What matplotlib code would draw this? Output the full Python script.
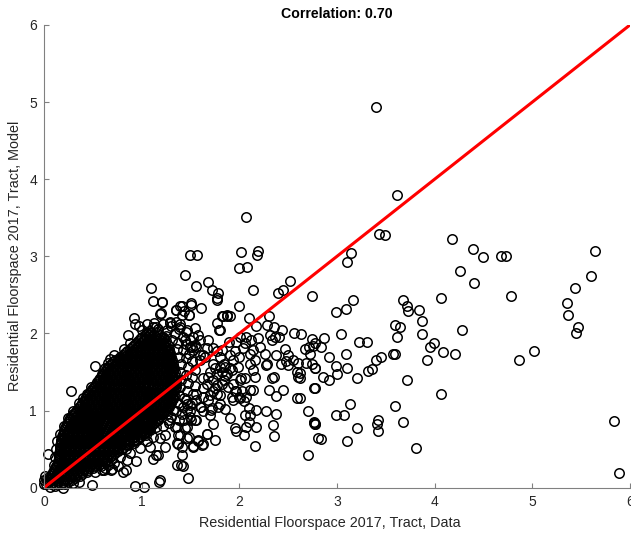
import matplotlib
matplotlib.use("Agg")
import matplotlib.pyplot as plt

plt.rcParams['font.family'] = ['Liberation Sans', 'DejaVu Sans']

# scattered tracts outside the dense core (data, model)
data_x = [5.64, 5.60, 5.44, 5.35, 5.37, 5.47, 5.45, 5.84, 5.89, 5.02, 4.86, 4.78, 4.68, 4.73, 4.50,
          4.39, 4.40, 4.26, 4.18, 4.28, 4.06, 4.21, 4.09, 3.99, 3.95, 3.92, 4.06, 3.87, 3.87, 3.84,
          3.68, 3.72, 3.73, 3.59, 3.65, 3.61, 3.57, 3.59, 3.45, 3.40, 3.36, 3.32, 3.72, 3.31, 3.23,
          3.21, 3.59, 3.68, 3.81, 3.42, 3.41, 3.42, 3.21, 3.10, 3.13, 2.99, 3.07, 2.84, 2.70, 2.76,
          2.77, 2.70, 2.77, 2.62, 2.86, 2.92, 3.00, 2.99, 3.10, 3.09, 2.92, 2.78, 2.68, 2.62, 2.62,
          2.72, 2.71, 2.75, 2.78, 2.84, 2.74, 2.87, 3.04, 2.63, 2.99, 3.09, 3.16, 2.74, 3.10, 3.14,
          3.40, 3.61, 3.43, 3.49, 2.07, 2.02, 2.19, 2.18, 1.49, 1.57,
          2.00, 2.08, 1.44, 1.68, 1.56, 1.72, 1.78, 1.77, 2.14, 2.40, 2.45, 2.52, 1.51, 1.61, 1.35,
          1.39, 1.43, 1.48, 2.00, 1.82, 1.87, 1.90, 2.10, 1.77, 1.79, 2.30, 2.28, 2.35, 2.44, 2.56,
          2.37, 2.41, 2.31, 2.17, 2.01, 2.07, 2.12, 2.19, 1.97, 2.06, 2.04, 2.14, 2.21, 2.33, 2.47,
          2.50, 2.55, 2.48, 2.67, 2.60, 2.74,
          1.68, 1.67, 1.73, 1.77, 1.82, 1.89, 1.90, 1.96, 2.00, 2.11, 2.11, 2.16, 2.26, 2.28, 2.38,
          2.43, 1.44, 1.53, 1.49, 1.56, 1.60, 1.65, 1.35, 1.39, 1.46, 1.55,
          1.47, 1.40, 1.41, 1.41, 1.36, 1.53, 1.62, 1.75, 1.67, 1.58, 1.48, 2.16, 2.36, 2.34, 2.38,
          2.27, 2.17, 2.10, 2.07, 1.96, 1.97, 2.05, 1.90, 1.73, 2.06, 2.11, 2.10, 2.17, 2.01, 2.03,
          1.96, 2.11, 2.05, 2.16, 2.02, 2.30, 2.38, 2.45, 2.33, 2.36, 2.27, 2.14, 1.99, 1.92, 1.85,
          2.50, 2.59, 2.60, 2.77, 2.76, 2.59, 2.76, 2.78, 2.81, 1.80, 1.80, 1.72, 1.70, 1.63, 1.61,
          1.56, 1.55, 1.49, 1.44, 1.37, 1.34, 1.41, 1.49, 1.43, 1.63, 1.73, 1.77, 1.82, 1.63, 1.68,
          1.77, 1.70,
          1.02, 0.93, 1.19, 1.42, 1.18, 1.24, 1.17, 0.94, 0.98, 0.84, 0.69, 0.59, 1.05, 1.12, 1.24,
          1.36, 1.46, 1.51, 1.63, 1.68, 1.67, 1.73, 1.77, 1.80, 1.80, 1.73, 1.60, 1.53, 1.60, 1.87,
          1.82, 1.94, 1.90, 1.94, 1.97, 2.01, 2.06, 1.94, 2.00, 2.07, 2.14,
          1.75, 1.85, 1.88, 1.70, 1.92, 1.85,
          0.40, 0.28, 0.56, 0.52, 0.68, 0.78, 0.91, 0.86, 0.99, 0.93, 0.92, 1.12, 1.29, 1.35, 1.20,
          1.10, 1.12, 1.21, 0.04,
          0.00, 0.01, 0.06, 0.11, 0.19, 0.30, 0.36, 0.49, 0.00, 0.03]
data_y = [3.07, 2.74, 2.59, 2.40, 2.24, 2.08, 2.00, 0.86, 0.19, 1.77, 1.66, 2.49, 3.01, 3.00, 2.99,
          3.10, 2.66, 2.81, 3.23, 2.05, 2.46, 1.73, 1.76, 1.87, 1.82, 1.66, 1.21, 2.16, 1.99, 2.30,
          2.43, 2.35, 2.29, 2.11, 2.08, 1.96, 1.74, 1.74, 1.70, 1.65, 1.54, 1.51, 1.40, 1.89, 1.89,
          1.42, 1.06, 0.85, 0.51, 0.88, 0.83, 0.74, 0.78, 0.60, 1.09, 0.94, 0.94, 0.63, 0.43, 0.84,
          0.82, 0.99, 1.29, 1.16, 1.43, 1.39, 1.48, 1.58, 1.55, 1.73, 1.70, 1.55, 1.62, 1.49, 1.42,
          1.74, 1.83, 1.84, 1.87, 1.82, 1.93, 1.94, 1.99, 1.99, 2.28, 2.32, 2.43, 2.49, 2.93, 3.04,
          4.94, 3.79, 3.29, 3.27, 3.51, 3.05, 3.07, 3.02, 3.02, 3.02,
          2.85, 2.86, 2.76, 2.67, 2.61, 2.56, 2.52, 2.46, 2.56, 2.53, 2.56, 2.68, 2.39, 2.33, 2.30,
          2.35, 2.29, 2.24, 2.35, 2.22, 2.22, 2.22, 2.20, 2.14, 2.05, 2.23, 2.11, 2.08, 2.05, 2.00,
          1.96, 1.96, 1.98, 2.10, 1.96, 1.96, 1.92, 1.94, 1.89, 1.87, 1.81, 1.79, 1.83, 1.92, 1.80,
          1.72, 1.66, 1.64, 1.80, 1.62, 1.61,
          1.92, 1.81, 1.81, 1.77, 1.79, 1.89, 1.72, 1.77, 1.70, 1.74, 1.61, 1.66, 1.74, 1.61, 1.72,
          1.61, 1.92, 1.96, 1.83, 1.83, 1.72, 1.70, 2.15, 2.09, 2.04, 2.07,
          0.12, 0.29, 0.43, 0.53, 0.58, 0.54, 0.55, 0.62, 0.69, 0.62, 0.66, 0.54, 0.67, 0.81, 0.95,
          1.00, 0.79, 0.85, 0.79, 0.77, 0.73, 0.68, 0.90, 0.82, 0.94, 0.94, 1.03, 1.01, 1.16, 1.25,
          1.25, 1.27, 1.12, 1.44, 1.42, 1.27, 1.19, 1.27, 1.42, 1.43, 1.59, 1.53, 1.57, 1.53, 1.57,
          1.59, 1.50, 1.44, 1.55, 1.29, 1.16, 0.85, 0.82, 0.64, 1.20, 1.09, 1.03, 0.94, 0.99, 1.05,
          1.22, 0.88, 0.92, 0.77, 0.68, 0.79, 0.96, 1.07, 1.16, 1.42, 1.40, 1.33, 1.35, 1.29, 1.44,
          1.48, 1.50,
          0.01, 0.02, 0.10, 0.28, 0.08, 0.53, 0.42, 0.35, 0.51, 0.23, 0.23, 0.23, 0.79, 0.66, 0.68,
          0.29, 0.79, 0.88, 1.18, 1.14, 1.35, 1.25, 1.22, 1.70, 1.57, 1.61, 1.66, 1.79, 1.92, 1.48,
          1.50, 1.66, 1.55, 1.35, 1.25, 1.40, 1.42, 1.14, 1.18, 1.18, 1.27,
          1.55, 1.45, 1.30, 1.20, 1.17, 1.02,
          1.16, 1.26, 1.40, 1.58, 1.67, 1.67, 1.75, 1.98, 1.94, 2.12, 2.20, 2.08, 2.15, 2.30, 2.26,
          2.59, 2.42, 2.41, 0.44,
          0.05, 0.15, 0.01, 0.02, 0.00, 0.06, 0.08, 0.03, 0.10, 0.12]

# tracts crowding the rim of the core
edge_x = [0.97, 1.05, 1.13, 1.22, 1.30, 1.38, 1.45, 1.00, 1.08, 1.17, 1.26, 1.34, 1.42, 1.50,
          1.25, 1.31, 1.37, 1.45, 1.52, 1.21, 1.41, 1.51, 1.77, 1.19, 1.29, 1.39, 1.48, 1.41,
          1.15, 1.83, 1.80, 1.87,
          1.36, 1.42, 1.48, 1.38, 1.45, 1.52, 1.40, 1.47, 1.55, 1.39, 1.45, 1.52, 1.40, 1.47,
          1.55, 1.39, 1.46, 1.53, 1.38, 1.45, 1.52, 1.37, 1.42, 1.50, 1.35, 1.30, 1.38, 1.28,
          1.22, 1.58, 1.55, 1.63, 1.84, 1.75, 1.84, 1.56, 1.46,
          0.81, 0.70, 0.61, 0.52, 0.85, 1.12, 1.15, 1.09, 1.19, 1.05, 0.88, 1.37, 1.39, 1.46,
          1.53, 1.58, 1.63, 1.67, 1.43, 1.56, 1.36, 1.27, 1.26, 1.32, 1.46, 1.60, 1.71, 1.78,
          1.09, 1.02, 1.15, 0.91, 0.72, 0.78, 0.84, 0.92, 0.76, 0.66, 0.70, 0.98, 1.04, 0.95,
          0.62, 0.58, 1.10, 1.17, 1.20,
          0.62, 0.66, 0.48, 0.44, 0.36, 0.30, 0.25, 0.20, 0.16, 0.13, 0.12, 0.11, 0.10, 0.72,
          0.82, 0.88, 0.59, 0.56]
edge_y = [2.10, 2.12, 2.14, 2.12, 2.10, 2.06, 2.02, 2.04, 2.03, 2.06, 2.04, 2.00, 1.96, 1.92,
          1.97, 1.92, 1.88, 1.86, 1.83, 2.41, 2.35, 2.37, 2.43, 2.25, 2.14, 2.12, 2.24, 2.24,
          2.09, 2.22, 2.04, 2.24,
          1.80, 1.78, 1.74, 1.70, 1.68, 1.64, 1.60, 1.57, 1.52, 1.50, 1.46, 1.43, 1.40, 1.36,
          1.32, 1.30, 1.26, 1.22, 1.20, 1.14, 1.10, 1.10, 1.04, 1.00, 1.00, 0.92, 0.88, 0.84,
          0.80, 1.98, 1.85, 1.72, 1.61, 1.29, 1.40, 1.14, 1.09,
          0.21, 0.24, 0.23, 0.21, 0.36, 0.37, 0.42, 0.53, 0.64, 0.60, 0.45, 0.57, 0.68, 0.64,
          0.53, 0.60, 0.57, 0.70, 0.88, 0.88, 0.79, 0.88, 0.96, 1.01, 1.01, 1.05, 1.01, 1.05,
          0.75, 0.71, 0.79, 0.66, 0.32, 0.40, 0.50, 0.58, 0.28, 0.30, 0.38, 0.66, 0.68, 0.62,
          0.26, 0.28, 0.85, 0.88, 0.95,
          1.55, 1.62, 1.30, 1.22, 1.10, 1.00, 0.90, 0.80, 0.70, 0.60, 0.50, 0.40, 0.30, 1.72,
          1.80, 1.88, 1.48, 1.40]

# dense core of tracts near the origin: model level -> data values on that level
core_rows = {
    0.05: [0.02, 0.07, 0.12, 0.17, 0.22],
    0.075: [0.045, 0.095, 0.145, 0.195, 0.245],
    0.10: [0.04, 0.09, 0.14, 0.19, 0.24, 0.29],
    0.125: [0.065, 0.115, 0.165, 0.215, 0.265, 0.315],
    0.15: [0.07, 0.12, 0.17, 0.22, 0.27, 0.32, 0.37],
    0.175: [0.085, 0.135, 0.185, 0.235, 0.285, 0.335, 0.385],
    0.20: [0.09, 0.14, 0.19, 0.24, 0.29, 0.34, 0.39, 0.44],
    0.225: [0.105, 0.155, 0.205, 0.255, 0.305, 0.355, 0.405, 0.455],
    0.25: [0.11, 0.16, 0.21, 0.26, 0.31, 0.36, 0.41, 0.46, 0.50],
    0.275: [0.125, 0.175, 0.225, 0.275, 0.325, 0.375, 0.425, 0.475, 0.525],
    0.30: [0.13, 0.18, 0.23, 0.28, 0.33, 0.38, 0.43, 0.48, 0.53, 0.56],
    0.325: [0.14, 0.19, 0.24, 0.29, 0.34, 0.39, 0.44, 0.49, 0.54, 0.59],
    0.35: [0.14, 0.19, 0.24, 0.29, 0.34, 0.39, 0.44, 0.49, 0.54, 0.59, 0.62],
    0.375: [0.15, 0.20, 0.25, 0.30, 0.35, 0.40, 0.45, 0.50, 0.55, 0.60, 0.645],
    0.40: [0.15, 0.20, 0.25, 0.30, 0.35, 0.40, 0.45, 0.50, 0.55, 0.60, 0.65, 0.68],
    0.425: [0.155, 0.205, 0.255, 0.305, 0.355, 0.405, 0.455, 0.505, 0.555, 0.605, 0.655, 0.705],
    0.45: [0.15, 0.18, 0.23, 0.28, 0.33, 0.38, 0.43, 0.48, 0.53, 0.58, 0.63, 0.68, 0.73],
    0.475: [0.16, 0.21, 0.26, 0.31, 0.36, 0.41, 0.46, 0.51, 0.56, 0.61, 0.66, 0.71, 0.76],
    0.50: [0.16, 0.21, 0.26, 0.31, 0.36, 0.41, 0.46, 0.51, 0.56, 0.61, 0.66, 0.71, 0.76, 0.80],
    0.525: [0.165, 0.215, 0.265, 0.315, 0.365, 0.415, 0.465, 0.515, 0.565, 0.615, 0.665, 0.715, 0.765, 0.815],
    0.55: [0.16, 0.19, 0.24, 0.29, 0.34, 0.39, 0.44, 0.49, 0.54, 0.59, 0.64, 0.69, 0.74, 0.79, 0.84, 0.86],
    0.575: [0.17, 0.22, 0.27, 0.32, 0.37, 0.42, 0.47, 0.52, 0.57, 0.62, 0.67, 0.72, 0.77, 0.82, 0.87],
    0.60: [0.17, 0.22, 0.27, 0.32, 0.37, 0.42, 0.47, 0.52, 0.57, 0.62, 0.67, 0.72, 0.77, 0.82, 0.87, 0.92],
    0.625: [0.175, 0.225, 0.275, 0.325, 0.375, 0.425, 0.475, 0.525, 0.575, 0.625, 0.675, 0.725, 0.775, 0.825, 0.875, 0.925],
    0.65: [0.18, 0.21, 0.26, 0.31, 0.36, 0.41, 0.46, 0.51, 0.56, 0.61, 0.66, 0.71, 0.76, 0.81, 0.86, 0.91, 0.96],
    0.675: [0.185, 0.235, 0.285, 0.335, 0.385, 0.435, 0.485, 0.535, 0.585, 0.635, 0.685, 0.735, 0.785, 0.835, 0.885, 0.935, 0.985],
    0.70: [0.19, 0.24, 0.29, 0.34, 0.39, 0.44, 0.49, 0.54, 0.59, 0.64, 0.69, 0.74, 0.79, 0.84, 0.89, 0.94, 0.99, 1.02],
    0.725: [0.20, 0.25, 0.30, 0.35, 0.40, 0.45, 0.50, 0.55, 0.60, 0.65, 0.70, 0.75, 0.80, 0.85, 0.90, 0.95, 1.00, 1.04],
    0.75: [0.21, 0.26, 0.31, 0.36, 0.41, 0.46, 0.51, 0.56, 0.61, 0.66, 0.71, 0.76, 0.81, 0.86, 0.91, 0.96, 1.01, 1.06],
    0.775: [0.22, 0.27, 0.32, 0.37, 0.42, 0.47, 0.52, 0.57, 0.62, 0.67, 0.72, 0.77, 0.82, 0.87, 0.92, 0.97, 1.02, 1.07],
    0.80: [0.23, 0.28, 0.33, 0.38, 0.43, 0.48, 0.53, 0.58, 0.63, 0.68, 0.73, 0.78, 0.83, 0.88, 0.93, 0.98, 1.03, 1.08, 1.10],
    0.825: [0.24, 0.29, 0.34, 0.39, 0.44, 0.49, 0.54, 0.59, 0.64, 0.69, 0.74, 0.79, 0.84, 0.89, 0.94, 0.99, 1.04, 1.09, 1.12],
    0.85: [0.25, 0.30, 0.35, 0.40, 0.45, 0.50, 0.55, 0.60, 0.65, 0.70, 0.75, 0.80, 0.85, 0.90, 0.95, 1.00, 1.05, 1.10, 1.14],
    0.875: [0.26, 0.31, 0.36, 0.41, 0.46, 0.51, 0.56, 0.61, 0.66, 0.71, 0.76, 0.81, 0.86, 0.91, 0.96, 1.01, 1.06, 1.11, 1.16],
    0.90: [0.27, 0.32, 0.37, 0.42, 0.47, 0.52, 0.57, 0.62, 0.67, 0.72, 0.77, 0.82, 0.87, 0.92, 0.97, 1.02, 1.07, 1.12, 1.17],
    0.925: [0.285, 0.335, 0.385, 0.435, 0.485, 0.535, 0.585, 0.635, 0.685, 0.735, 0.785, 0.835, 0.885, 0.935, 0.985, 1.035, 1.085, 1.135, 1.185],
    0.95: [0.30, 0.35, 0.40, 0.45, 0.50, 0.55, 0.60, 0.65, 0.70, 0.75, 0.80, 0.85, 0.90, 0.95, 1.00, 1.05, 1.10, 1.15, 1.20, 1.22],
    0.975: [0.315, 0.365, 0.415, 0.465, 0.515, 0.565, 0.615, 0.665, 0.715, 0.765, 0.815, 0.865, 0.915, 0.965, 1.015, 1.065, 1.115, 1.165, 1.215],
    1.00: [0.33, 0.38, 0.43, 0.48, 0.53, 0.58, 0.63, 0.68, 0.73, 0.78, 0.83, 0.88, 0.93, 0.98, 1.03, 1.08, 1.13, 1.18, 1.23, 1.25],
    1.025: [0.345, 0.395, 0.445, 0.495, 0.545, 0.595, 0.645, 0.695, 0.745, 0.795, 0.845, 0.895, 0.945, 0.995, 1.045, 1.095, 1.145, 1.195, 1.245],
    1.05: [0.36, 0.41, 0.46, 0.51, 0.56, 0.61, 0.66, 0.71, 0.76, 0.81, 0.86, 0.91, 0.96, 1.01, 1.06, 1.11, 1.16, 1.21, 1.26, 1.28],
    1.075: [0.375, 0.425, 0.475, 0.525, 0.575, 0.625, 0.675, 0.725, 0.775, 0.825, 0.875, 0.925, 0.975, 1.025, 1.075, 1.125, 1.175, 1.225, 1.275],
    1.10: [0.39, 0.44, 0.49, 0.54, 0.59, 0.64, 0.69, 0.74, 0.79, 0.84, 0.89, 0.94, 0.99, 1.04, 1.09, 1.14, 1.19, 1.24, 1.29, 1.30],
    1.125: [0.405, 0.455, 0.505, 0.555, 0.605, 0.655, 0.705, 0.755, 0.805, 0.855, 0.905, 0.955, 1.005, 1.055, 1.105, 1.155, 1.205, 1.255, 1.305],
    1.15: [0.42, 0.47, 0.52, 0.57, 0.62, 0.67, 0.72, 0.77, 0.82, 0.87, 0.92, 0.97, 1.02, 1.07, 1.12, 1.17, 1.22, 1.27, 1.32],
    1.175: [0.435, 0.485, 0.535, 0.585, 0.635, 0.685, 0.735, 0.785, 0.835, 0.885, 0.935, 0.985, 1.035, 1.085, 1.135, 1.185, 1.235, 1.285, 1.32],
    1.20: [0.45, 0.50, 0.55, 0.60, 0.65, 0.70, 0.75, 0.80, 0.85, 0.90, 0.95, 1.00, 1.05, 1.10, 1.15, 1.20, 1.25, 1.30, 1.33],
    1.225: [0.465, 0.515, 0.565, 0.615, 0.665, 0.715, 0.765, 0.815, 0.865, 0.915, 0.965, 1.015, 1.065, 1.115, 1.165, 1.215, 1.265, 1.315],
    1.25: [0.48, 0.53, 0.58, 0.63, 0.68, 0.73, 0.78, 0.83, 0.88, 0.93, 0.98, 1.03, 1.08, 1.13, 1.18, 1.23, 1.28, 1.33],
    1.275: [0.495, 0.545, 0.595, 0.645, 0.695, 0.745, 0.795, 0.845, 0.895, 0.945, 0.995, 1.045, 1.095, 1.145, 1.195, 1.245, 1.295, 1.34],
    1.30: [0.51, 0.56, 0.61, 0.66, 0.71, 0.76, 0.81, 0.86, 0.91, 0.96, 1.01, 1.06, 1.11, 1.16, 1.21, 1.26, 1.31, 1.35],
    1.325: [0.52, 0.57, 0.62, 0.67, 0.72, 0.77, 0.82, 0.87, 0.92, 0.97, 1.02, 1.07, 1.12, 1.17, 1.22, 1.27, 1.32],
    1.35: [0.53, 0.58, 0.63, 0.68, 0.73, 0.78, 0.83, 0.88, 0.93, 0.98, 1.03, 1.08, 1.13, 1.18, 1.23, 1.28, 1.33, 1.35],
    1.375: [0.545, 0.595, 0.645, 0.695, 0.745, 0.795, 0.845, 0.895, 0.945, 0.995, 1.045, 1.095, 1.145, 1.195, 1.245, 1.295, 1.345],
    1.40: [0.56, 0.61, 0.66, 0.71, 0.76, 0.81, 0.86, 0.91, 0.96, 1.01, 1.06, 1.11, 1.16, 1.21, 1.26, 1.31, 1.35],
    1.425: [0.575, 0.625, 0.675, 0.725, 0.775, 0.825, 0.875, 0.925, 0.975, 1.025, 1.075, 1.125, 1.175, 1.225, 1.275, 1.325],
    1.45: [0.59, 0.64, 0.69, 0.74, 0.79, 0.84, 0.89, 0.94, 0.99, 1.04, 1.09, 1.14, 1.19, 1.24, 1.29, 1.34],
    1.475: [0.605, 0.655, 0.705, 0.755, 0.805, 0.855, 0.905, 0.955, 1.005, 1.055, 1.105, 1.155, 1.205, 1.255, 1.305],
    1.50: [0.62, 0.67, 0.72, 0.77, 0.82, 0.87, 0.92, 0.97, 1.02, 1.07, 1.12, 1.17, 1.22, 1.27, 1.32, 1.34],
    1.525: [0.635, 0.685, 0.735, 0.785, 0.835, 0.885, 0.935, 0.985, 1.035, 1.085, 1.135, 1.185, 1.235, 1.285, 1.325],
    1.55: [0.65, 0.70, 0.75, 0.80, 0.85, 0.90, 0.95, 1.00, 1.05, 1.10, 1.15, 1.20, 1.25, 1.30, 1.33],
    1.575: [0.67, 0.72, 0.77, 0.82, 0.87, 0.92, 0.97, 1.02, 1.07, 1.12, 1.17, 1.22, 1.27, 1.31],
    1.60: [0.69, 0.74, 0.79, 0.84, 0.89, 0.94, 0.99, 1.04, 1.09, 1.14, 1.19, 1.24, 1.29, 1.32],
    1.625: [0.71, 0.76, 0.81, 0.86, 0.91, 0.96, 1.01, 1.06, 1.11, 1.16, 1.21, 1.26, 1.30],
    1.65: [0.73, 0.78, 0.83, 0.88, 0.93, 0.98, 1.03, 1.08, 1.13, 1.18, 1.23, 1.28, 1.31],
    1.675: [0.755, 0.805, 0.855, 0.905, 0.955, 1.005, 1.055, 1.105, 1.155, 1.205, 1.255, 1.295],
    1.70: [0.78, 0.83, 0.88, 0.93, 0.98, 1.03, 1.08, 1.13, 1.18, 1.23, 1.28, 1.30],
    1.725: [0.805, 0.855, 0.905, 0.955, 1.005, 1.055, 1.105, 1.155, 1.205, 1.255, 1.29],
    1.75: [0.83, 0.88, 0.93, 0.98, 1.03, 1.08, 1.13, 1.18, 1.23, 1.29],
    1.775: [0.855, 0.905, 0.955, 1.005, 1.055, 1.105, 1.155, 1.205, 1.255, 1.28],
    1.80: [0.88, 0.93, 0.98, 1.03, 1.08, 1.13, 1.18, 1.23, 1.28],
    1.825: [0.90, 0.95, 1.00, 1.05, 1.10, 1.15, 1.20, 1.25],
    1.85: [0.92, 0.97, 1.02, 1.07, 1.12, 1.17, 1.22, 1.27],
    1.875: [0.94, 0.99, 1.04, 1.09, 1.14, 1.19, 1.24],
    1.90: [0.96, 1.01, 1.06, 1.11, 1.16, 1.21, 1.25],
    1.925: [0.98, 1.03, 1.08, 1.13, 1.18, 1.23],
    1.95: [1.00, 1.05, 1.10, 1.15, 1.20, 1.22],
    1.975: [1.03, 1.08, 1.13, 1.18],
    2.00: [1.05, 1.10, 1.16],
}

# 45 degree reference line
fit_x = [0, 6]
fit_y = [0, 6]
corr = 0.70

all_x = data_x + edge_x
all_y = data_y + edge_y
for yv, xs in core_rows.items():
    all_x += xs
    all_y += [yv] * len(xs)

fig = plt.figure(figsize=(6.31, 5.35), dpi=100)
ax = fig.add_axes([0.0697, 0.0884, 0.9287, 0.865])

ax.plot(all_x, all_y, 'o', mfc='none', mec='black', ms=6.8, mew=1.1,
        linestyle='none', clip_on=False)
ax.plot(fit_x, fit_y, color='#ff0000', lw=2.2)

ax.set_xlim(0, 6)
ax.set_ylim(0, 6)
ax.set_xticks(range(7))
ax.set_yticks(range(7))

axcol = '#808080'
for s in ['top', 'right']:
    ax.spines[s].set_visible(False)
for s in ['left', 'bottom']:
    ax.spines[s].set_color(axcol)
    ax.spines[s].set_linewidth(0.8)
ax.tick_params(direction='in', length=3.5, width=0.8, color=axcol,
               labelcolor='#262626', labelsize=10)
ax.tick_params(axis='x', pad=5)
ax.tick_params(axis='y', pad=5)

ax.set_xlabel('Residential Floorspace 2017, Tract, Data', fontsize=10.4, color='#262626')
ax.set_ylabel('Residential Floorspace 2017, Tract, Model', fontsize=10.4, color='#262626', labelpad=5)
ax.xaxis.set_label_coords(0.488, -0.062)
ax.set_title('Correlation: {:.2f}'.format(corr), fontsize=10.2, fontweight='bold', pad=5)

plt.savefig('out.png', dpi=100)
